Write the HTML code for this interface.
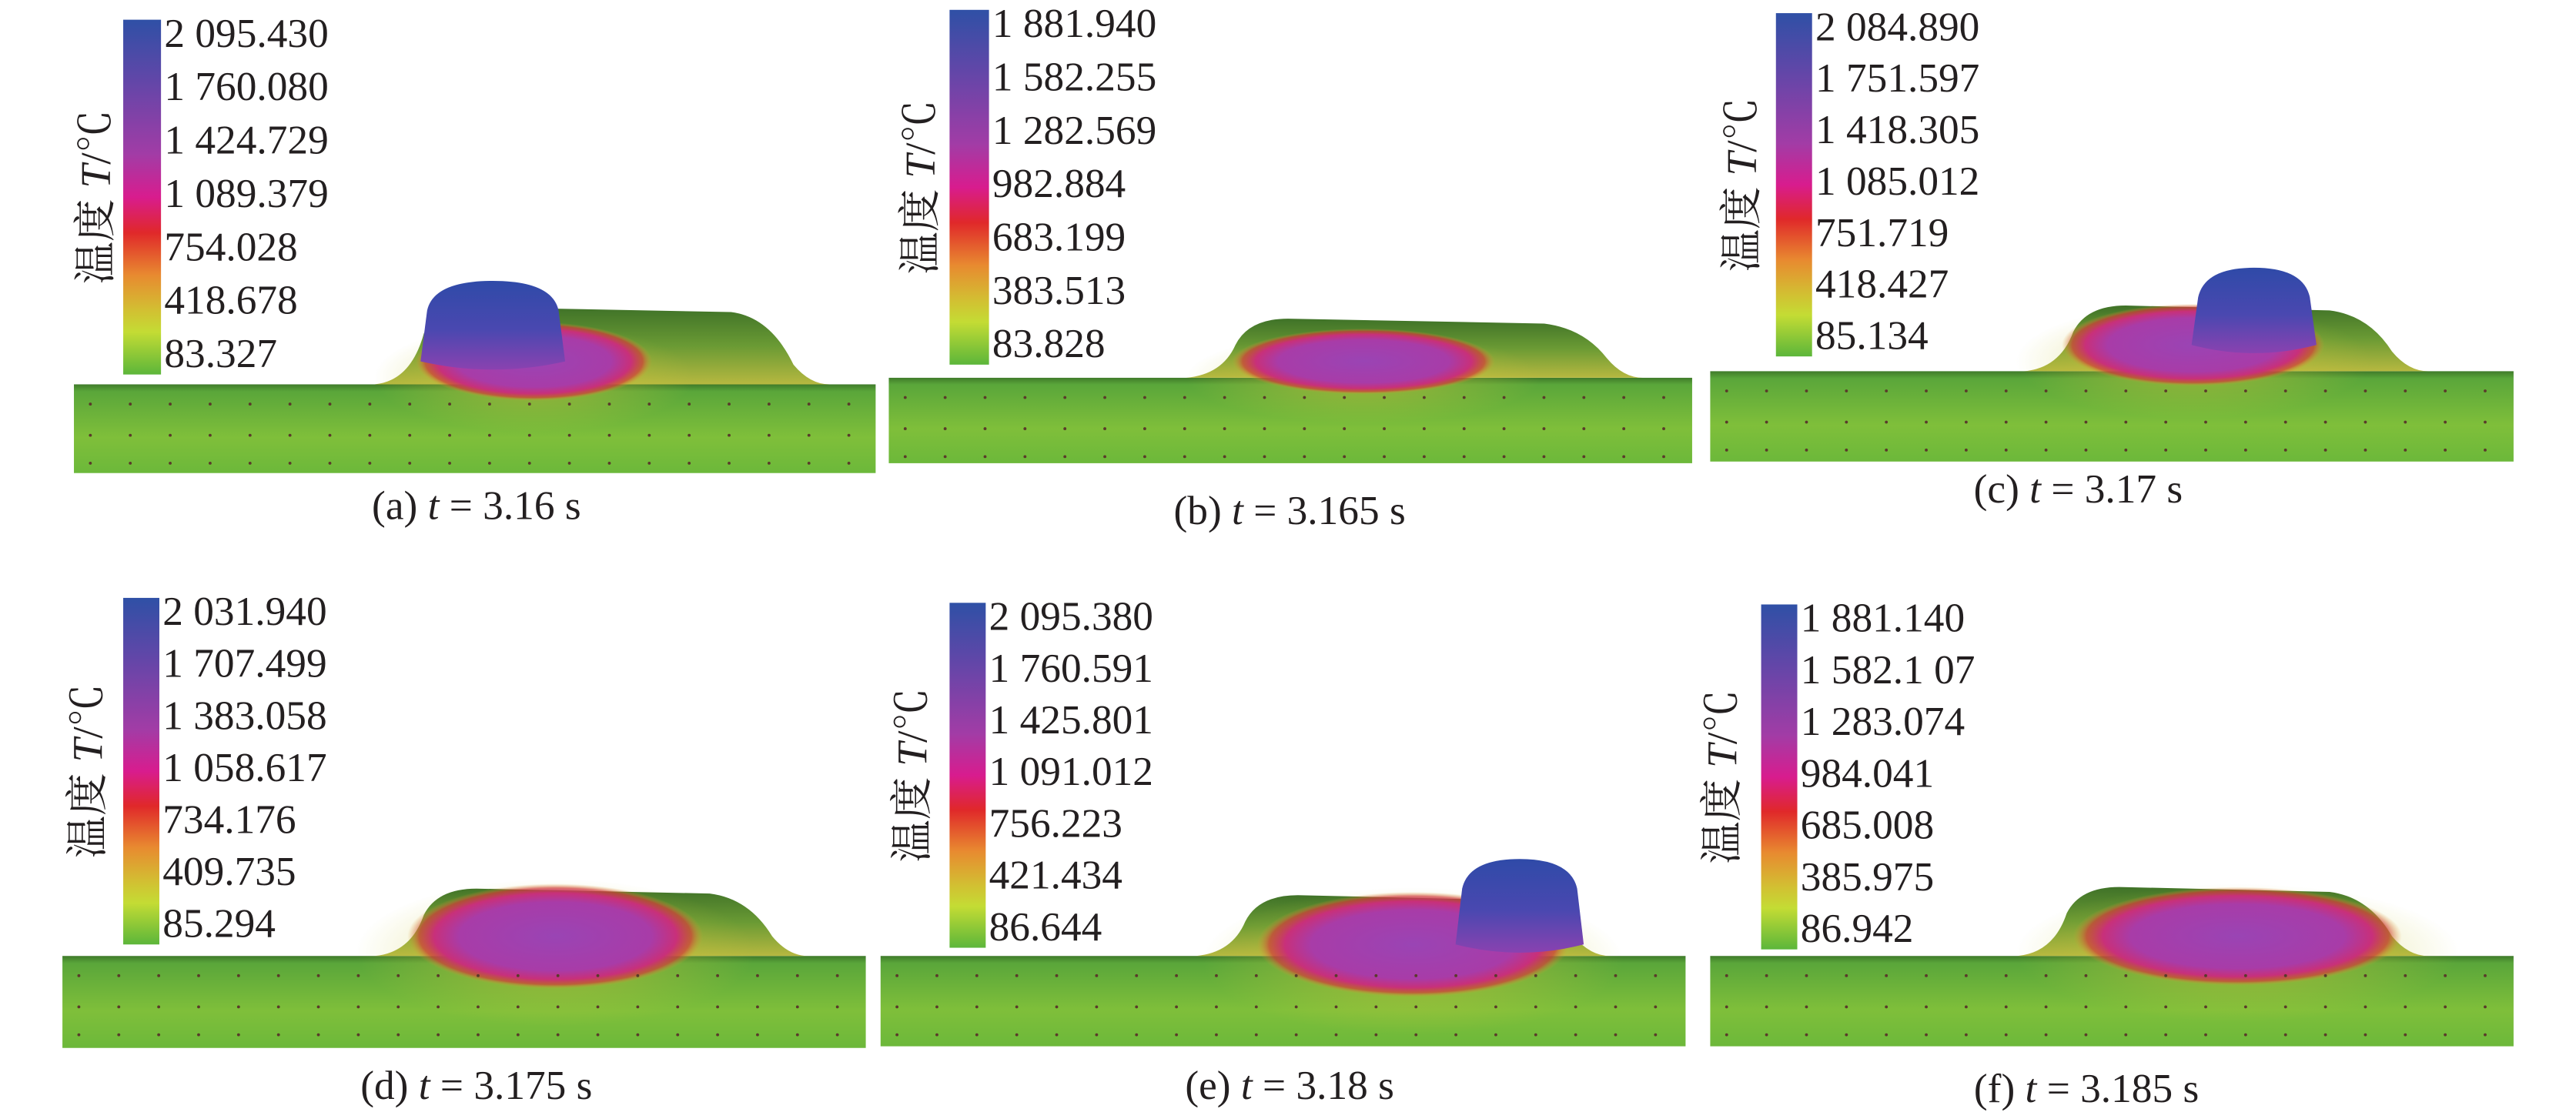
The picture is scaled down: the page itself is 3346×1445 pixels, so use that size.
<!DOCTYPE html>
<html><head><meta charset="utf-8"><style>
html,body{margin:0;padding:0;background:#fff;width:3346px;height:1445px;overflow:hidden}
svg{display:block}
text,tspan{font-family:"Liberation Serif","Noto Serif CJK SC",serif !important;fill:#231f20}
</style></head><body>
<svg id="fig" width="3346" height="1445" viewBox="0 0 1568 677" preserveAspectRatio="none" xmlns="http://www.w3.org/2000/svg" font-family="Liberation Serif, Noto Serif CJK SC, serif">
<defs>
<linearGradient id="cbar" x1="0" y1="0" x2="0" y2="1">
<stop offset="0" stop-color="#2f50a6"/><stop offset="0.18" stop-color="#6446a8"/><stop offset="0.38" stop-color="#a23ca6"/><stop offset="0.5" stop-color="#d81c8e"/><stop offset="0.6" stop-color="#e0282a"/><stop offset="0.72" stop-color="#e88a30"/><stop offset="0.82" stop-color="#d2c032"/><stop offset="0.88" stop-color="#c4dc34"/><stop offset="1" stop-color="#5cb63a"/>
</linearGradient>
<linearGradient id="slabg" x1="0" y1="0" x2="0" y2="1">
<stop offset="0" stop-color="#3f7a2a"/><stop offset="0.08" stop-color="#5aa63a"/><stop offset="0.6" stop-color="#7fbf3a"/><stop offset="1" stop-color="#6cb83a"/>
</linearGradient>
<linearGradient id="beadg" x1="0" y1="0" x2="0" y2="1">
<stop offset="0" stop-color="#3f7228"/><stop offset="0.5" stop-color="#6a9a34"/><stop offset="1" stop-color="#b6b840"/>
</linearGradient>
<radialGradient id="poolg">
<stop offset="0" stop-color="#9a44b4"/><stop offset="0.65" stop-color="#a83ca8"/><stop offset="0.82" stop-color="#c8307a"/><stop offset="0.92" stop-color="#d03a38" stop-opacity="0.7"/><stop offset="1" stop-color="#d8a030" stop-opacity="0"/>
</radialGradient>
<radialGradient id="haloG">
<stop offset="0" stop-color="#d8b83a" stop-opacity="0.6"/><stop offset="1" stop-color="#c8cc3a" stop-opacity="0"/>
</radialGradient>
<linearGradient id="domeg" x1="0" y1="0" x2="0" y2="1">
<stop offset="0" stop-color="#2f4aa8"/><stop offset="0.55" stop-color="#4a48b0"/><stop offset="1" stop-color="#8a42b0"/>
</linearGradient>
</defs>
<g id="root"></g>
</svg>
<script>
const panelIds = ['a','b','c','d','e','f'];
const captions = ['(a)','(b)','(c)','(d)','(e)','(f)'];
const times = ['3.16','3.165','3.17','3.175','3.18','3.185'];
const labelsA = ['2 095.430','1 760.080','1 424.729','1 089.379','754.028','418.678','83.327'];
const labelsB = ['1 881.940','1 582.255','1 282.569','982.884','683.199','383.513','83.828'];
const labelsC = ['2 084.890','1 751.597','1 418.305','1 085.012','751.719','418.427','85.134'];
const labelsD = ['2 031.940','1 707.499','1 383.058','1 058.617','734.176','409.735','85.294'];
const labelsE = ['2 095.380','1 760.591','1 425.801','1 091.012','756.223','421.434','86.644'];
const labelsF = ['1 881.140','1 582.1 07','1 283.074','984.041','685.008','385.975','86.942'];
const allLabels = [labelsA,labelsB,labelsC,labelsD,labelsE,labelsF];
const L = [
 {cb:[75,12,23,216], slab:[45,234,488,54], cap:[290,316], tx:58, bead:[228,505,187], dome:[300,88,171], pool:[325,220,72,24]},
 {cb:[578,6,24,216], slab:[541,230,489,52], cap:[785,319], tx:560, bead:[722,1000,194], dome:null, pool:[830,220,80,20]},
 {cb:[1081,8,22,209], slab:[1041,226,489,55], cap:[1265,306], tx:1060, bead:[1232,1478,186], dome:[1372,76,163], pool:[1335,210,80,25]},
 {cb:[75,364,22,211], slab:[38,582,489,56], cap:[290,669], tx:53, bead:[228,492,541], dome:null, pool:[338,570,90,32]},
 {cb:[578,367,22,210], slab:[536,582,490,55], cap:[785,669], tx:555, bead:[728,980,545], dome:[925,78,523], pool:[860,575,95,32]},
 {cb:[1072,368,22,210], slab:[1041,582,489,55], cap:[1270,671], tx:1048, bead:[1228,1478,540], dome:null, pool:[1362,570,100,30]}
];
const NS='http://www.w3.org/2000/svg';
const root=document.getElementById('root');
function mk(tag,attrs,parent){const e=document.createElementNS(NS,tag);for(const k in attrs)e.setAttribute(k,attrs[k]);(parent||root).appendChild(e);return e;}
L.forEach((p,i)=>{
 const g=mk('g',{});
 
 
 const [sx,sy,sw,sh]=p.slab;
 const [pcx,pcy,prx,pry]=p.pool;
 const slab=mk('rect',{x:sx,y:sy,width:sw,height:sh,fill:'url(#slabg)'},g);
 
 
 const [x0,x1,top]=p.bead;
 const bead=mk('path',{d:`M${x0},${sy} Q${x0+22},${sy-2} ${x0+30},${top+16} Q${x0+38},${top} ${x0+62},${top} L${x1-60},${top+3} Q${x1-36},${top+6} ${x1-22},${sy-12} Q${x1-12},${sy} ${x1},${sy} Z`,fill:'url(#beadg)'},g);
 
 
 const halo=mk('ellipse',{cx:pcx,cy:pcy+10,rx:prx*1.35,ry:pry*1.4,fill:'url(#haloG)'},g);
 
 
 const pool=mk('ellipse',{cx:pcx,cy:pcy,rx:prx,ry:pry,fill:'url(#poolg)'},g);
 
 
 if(p.dome){
  const [dc,dw,dt]=p.dome;
  const a=dc-dw/2,b=dc+dw/2,bot=Math.max(pcy,dt+40);
  const dome=mk('path',{d:`M${a},${bot} L${a+4},${dt+18} Q${a+8},${dt} ${dc},${dt} Q${b-8},${dt} ${b-4},${dt+18} L${b},${bot} Q${dc},${bot+10} ${a},${bot} Z`,fill:'url(#domeg)'},g);
  
  
 }
 [12,31,48].forEach(dy=>{for(let x=sx+10;x<sx+sw-4;x+=24.3){const d=mk('circle',{cx:x,cy:sy+dy,r:0.9,fill:'#5a3a2a'},g);}});
 const [cx,cy,cw,ch]=p.cb;
 const cb=mk('rect',{x:cx,y:cy,width:cw,height:ch,fill:'url(#cbar)'},g);
 
 
 const labs=allLabels[i];
 const y0=cy+8, y1=cy+ch-13;
 labs.forEach((t,k)=>{
  const tx=mk('text',{x:cx+cw+2,y:y0+(y1-y0)*k/(labs.length-1)+8.5,'font-size':25},g);
  tx.textContent=t;
  
  
 });
 const tcy=cy+ch/2;
 const title=mk('text',{x:0,y:0,'font-size':26,'text-anchor':'middle',transform:`translate(${p.tx+9},${tcy}) rotate(-90)`},g);
 title.innerHTML='温度 <tspan font-style="italic">T</tspan>/℃';
 
 
 const cap=mk('text',{x:p.cap[0],y:p.cap[1],'font-size':25,'text-anchor':'middle'},g);
 cap.innerHTML=captions[i]+' <tspan font-style="italic">t</tspan> = '+times[i]+' s';
 
 
});
</script>
</body></html>
